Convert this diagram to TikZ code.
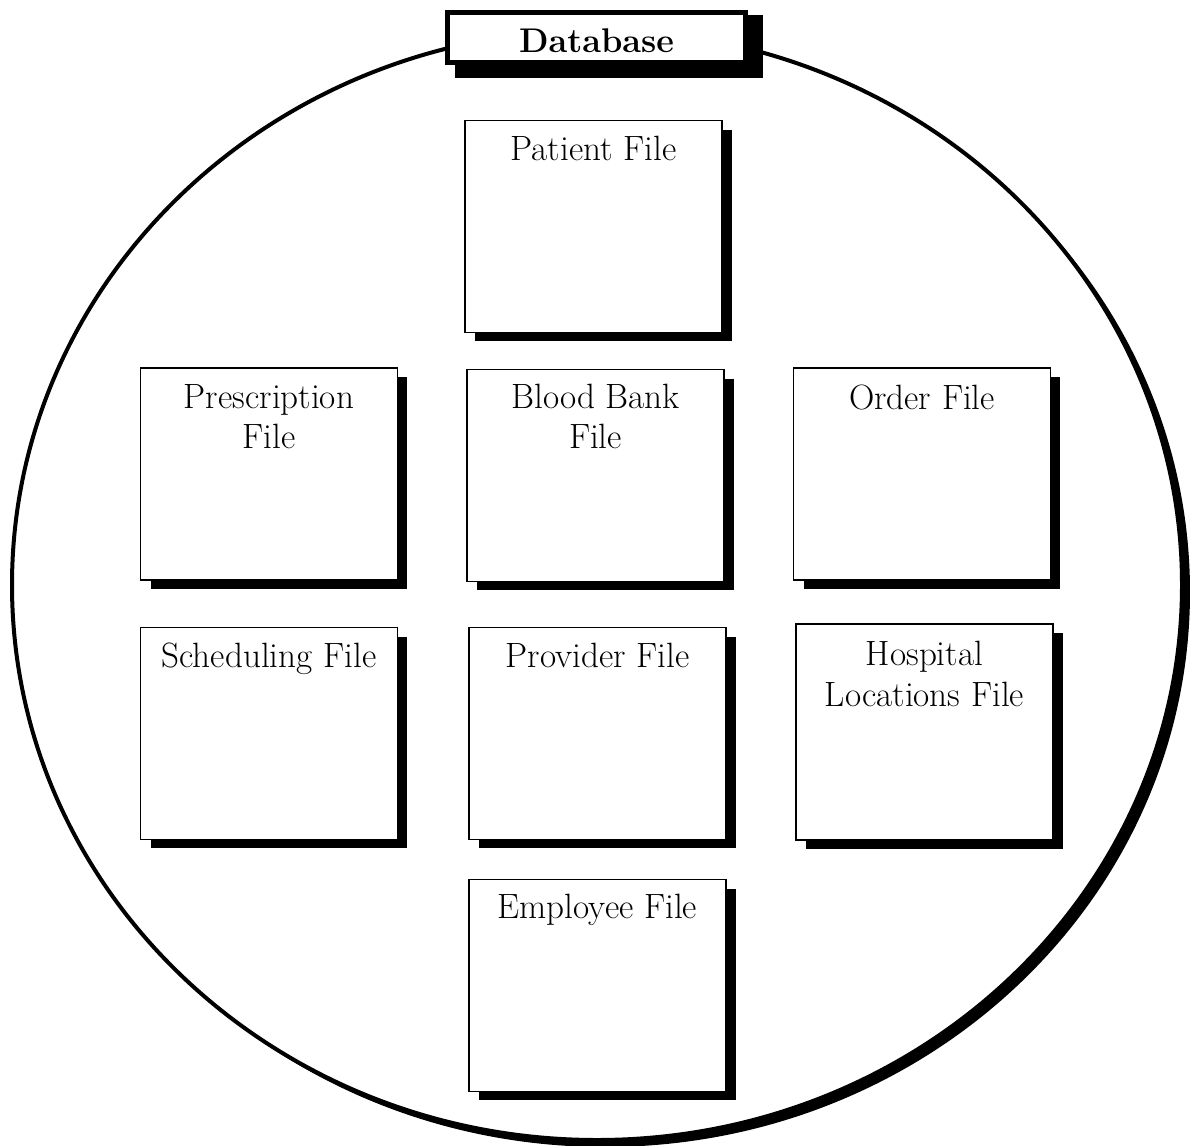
\documentclass[tikz,border=0pt]{standalone}
\usepackage{tikz}
\usetikzlibrary{positioning,shadows}

\tikzset{
  filebox/.style={draw, fill=white, line width=0.9pt, inner sep=0pt,
    minimum width=5.14cm, minimum height=4.24cm,
    drop shadow={shadow xshift=0.2cm, shadow yshift=-0.18cm, fill=black, opacity=1}},
  filelabel/.style={inner sep=0pt, align=center, font=\fontsize{20}{22.8}\selectfont},
  dbbox/.style={draw, fill=white, line width=0.1cm, inner sep=0pt,
    minimum width=5.96cm, minimum height=1cm, text height=0.62cm, text depth=0pt,
    font=\fontsize{19.5}{22.8}\selectfont\bfseries}
}

\begin{document}
\begin{tikzpicture}[x=0.02cm, y=-0.02cm]
		%%%%% START %%%%%
		\useasboundingbox (0,0) rectangle (1190,1146);
		
		\fill (605,592) ellipse [x radius=585, y radius=555];
		\draw[fill=white, line width=0.08cm] (597,585) ellipse [x radius=585, y radius=555];
		
		\fill (455,15) rectangle (763,78);
		\node[dbbox] (database) at (596.5,37.5) {Database};
		
		\node[filebox] (patient) at (593.5,226.5) {};
		\node[filelabel, below=0.32cm of patient.north] (patientlabel) {Patient File};
		
		\node[filebox] (prescription) at (269,474) {};
		\node[filelabel, below=0.34cm of prescription.north] (prescriptionlabel) {Prescription\\File};
		\node[filebox] (bloodbank) at (595.5,475.5) {};
		\node[filelabel, below=0.3cm of bloodbank.north] (bloodbanklabel) {Blood Bank\\File};
		\node[filebox] (order) at (922,474) {};
		\node[filelabel, below=0.34cm of order.north] (orderlabel) {Order File};
		
		\node[filebox] (scheduling) at (269,733.5) {};
		\node[filelabel, below=0.32cm of scheduling.north] (schedulinglabel) {Scheduling File};
		\node[filebox] (provider) at (597.5,733.5) {};
		\node[filelabel, below=0.32cm of provider.north] (providerlabel) {Provider File};
		\node[filebox, minimum height=4.32cm] (hospital) at (924.5,732) {};
		\node[filelabel, below=0.36cm of hospital.north] (hospitallabel) {Hospital\\Locations File};
		
		\node[filebox] (employee) at (597.5,985.5) {};
		\node[filelabel, below=0.3cm of employee.north] (employeelabel) {Employee File};
		
		%%%%% END %%%%%
\end{tikzpicture}
\end{document}
